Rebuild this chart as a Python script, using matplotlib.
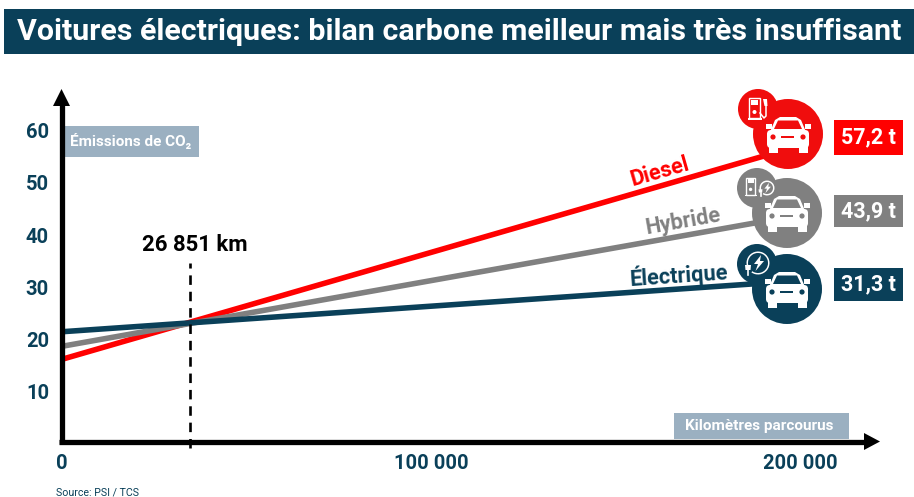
import matplotlib
matplotlib.use("Agg")
import matplotlib.pyplot as plt
from matplotlib.patches import Circle, Rectangle, Polygon, FancyBboxPatch, Wedge

W = 914
H = 497
BLUE = "#0A4059"
RED = "#F00D0D"
GREY = "#808080"
PALE = "#9BB0C1"

km = [0, 200000]
diesel = [16.2, 57.2]
hybride = [18.7, 43.9]
electrique = [21.5, 31.3]
names = ["Diesel", "Hybride", "Électrique"]
totals = ["57,2 t", "43,9 t", "31,3 t"]
y_ticks = [10, 20, 30, 40, 50, 60]
x_ticks = [0, 100000, 200000]
x_labels = ["0", "100 000", "200 000"]
cross_km = 34800
cross_label = "26 851 km"

plt.rcParams["font.family"] = ["Roboto", "DejaVu Sans"]
fig = plt.figure(figsize=(W / 100, H / 100), dpi=100)

# chart axes, placed so that the scales land on the original pixels
ax = fig.add_axes([61.5 / W, 1 - 441.5 / H, (880 - 61.5) / W, (441.5 - 89) / H])
ax.set_xlim(0, (880 - 61.5) / 3.695 * 1000)
ax.set_ylim((444 - 441.5) / 5.22, (444 - 89) / 5.22)
for s in ax.spines.values():
    s.set_visible(False)
ax.patch.set_visible(False)
ax.plot(km, diesel, color="#FF0000", lw=4, solid_capstyle="butt")
ax.plot(km, hybride, color=GREY, lw=4, solid_capstyle="butt")
ax.plot(km, electrique, color=BLUE, lw=4, solid_capstyle="butt")
ax.plot([cross_km, cross_km], [-0.8, 34.7], color="black", lw=1.9, ls=(0, (3.6, 2.6)), clip_on=False)
ax.set_yticks(y_ticks)
ax.set_xticks(x_ticks)
ax.set_xticklabels(x_labels)
ax.tick_params(length=0, labelcolor=BLUE, labelsize=14.5)
ax.tick_params(axis="y", pad=9)
ax.tick_params(axis="x", pad=9)
for t in ax.get_xticklabels() + ax.get_yticklabels():
    t.set_fontweight("bold")

# overlay in pixel coordinates for the decoration
ov = fig.add_axes([0, 0, 1, 1])
ov.set_xlim(0, W)
ov.set_ylim(H, 0)
ov.axis("off")

# banner
ov.add_patch(Rectangle((4, 9), W - 4, 45, color=BLUE, lw=0))
ov.text(17, 32, "Voitures électriques: bilan carbone meilleur mais très insuffisant",
        color="white", fontsize=21.9, fontweight="bold", ha="left", va="center")

# axis arrows
ov.plot([61.5, 61.5], [444, 104], color="black", lw=3.8, solid_capstyle="butt")
ov.plot([59, 866], [441.5, 441.5], color="black", lw=3.8, solid_capstyle="butt")
ov.add_patch(Polygon([(61.5, 89), (53, 106), (70, 106)], color="black", lw=0))
ov.add_patch(Polygon([(880, 441.5), (864, 433), (864, 450)], color="black", lw=0))

# axis caption boxes
ov.add_patch(Rectangle((64, 126), 135, 31, color=PALE, lw=0))
ov.text(70, 141, "Émissions de CO₂", color="white", fontsize=11, fontweight="bold", va="center")
ov.add_patch(Rectangle((674, 413), 175, 26, color=PALE, lw=0))
ov.text(759.5, 426, "Kilomètres parcourus", color="white", fontsize=11, fontweight="bold",
        ha="center", va="center")

ov.text(194.5, 245, cross_label, color="black", fontsize=15.9, fontweight="bold", ha="center", va="center")
ov.text(56, 493, "Source: PSI / TCS", color=BLUE, fontsize=7.7, va="center")

# series names along the lines
ov.text(660, 172, names[0], color="#FF0000", fontsize=15.7, fontweight="bold", rotation=16,
        ha="center", va="center", rotation_mode="anchor")
ov.text(683, 222, names[1], color=GREY, fontsize=15.7, fontweight="bold", rotation=10,
        ha="center", va="center", rotation_mode="anchor")
ov.text(679, 275, names[2], color=BLUE, fontsize=15.7, fontweight="bold", rotation=4,
        ha="center", va="center", rotation_mode="anchor")


def car(cx, cy, col):
    # body, wheels, mirrors in white, then windscreen and details in circle colour
    ov.add_patch(FancyBboxPatch((cx - 21, cy - 4), 42, 18, boxstyle="round,pad=0,rounding_size=4", color="white", lw=0, zorder=5))
    ov.add_patch(Polygon([(cx - 18, cy - 2), (cx - 13, cy - 14), (cx - 8, cy - 17), (cx + 8, cy - 17), (cx + 13, cy - 14), (cx + 18, cy - 2)], color="white", lw=0, zorder=5))
    ov.add_patch(Polygon([(cx - 14, cy - 5), (cx - 10, cy - 13.5), (cx + 10, cy - 13.5), (cx + 14, cy - 5)], color=col, lw=0, zorder=6))
    for dx in (-15, 15):
        ov.add_patch(Rectangle((cx + dx - 4.5, cy + 12), 9, 7, color="white", lw=0, zorder=5))
        ov.add_patch(Circle((cx + dx, cy + 3), 2.6, color=col, lw=0, zorder=6))
        ov.add_patch(Rectangle((cx + dx * 1.3 - 3, cy - 10), 6, 5, color="white", lw=0, zorder=5))
    ov.add_patch(Rectangle((cx - 7, cy + 2.2), 13, 1.8, color=col, lw=0, zorder=6))


def pump(cx, cy, s=1.0, hose=True):
    ov.add_patch(Rectangle((cx - 6 * s, cy - 10 * s), 11 * s, 20 * s, fill=False, ec="white", lw=1, zorder=7))
    ov.add_patch(Rectangle((cx - 4 * s, cy - 8 * s), 7 * s, 5 * s, color="white", lw=0, zorder=7))
    ov.add_patch(Rectangle((cx - 7.5 * s, cy + 10 * s), 14 * s, 1.5, color="white", lw=0, zorder=7))
    ov.add_patch(Circle((cx - 0.5 * s, cy + 4 * s), 2 * s, color="white", lw=0, zorder=7))
    if hose:
        ov.plot([cx + 5, cx + 9, cx + 11, cx + 11], [cy + 5, cy + 10, cy + 8, cy - 6], color="white", lw=1.1, zorder=7)
        ov.add_patch(Polygon([(cx + 8, cy - 9), (cx + 12, cy - 9), (cx + 12.5, cy - 2), (cx + 9.5, cy - 2)], color="white", lw=0, zorder=7))


def plug(cx, cy, s=1.0):
    ov.add_patch(Wedge((cx, cy), 11.5 * s, -215, 125, width=1.5, color="white", lw=0, zorder=7))
    ov.add_patch(Polygon([(cx + 3 * s, cy - 8 * s), (cx - 4 * s, cy + 1 * s), (cx, cy + 1 * s), (cx - 2.5 * s, cy + 8 * s),
                          (cx + 6 * s, cy - 2 * s), (cx + 2 * s, cy - 2 * s)], color="white", lw=0, zorder=7))
    ov.add_patch(Polygon([(cx - 13 * s, cy + 2 * s), (cx - 7 * s, cy + 2 * s), (cx - 7.5 * s, cy + 7 * s), (cx - 12.5 * s, cy + 7 * s)],
                         color="white", lw=0, zorder=7))
    ov.plot([cx - 10 * s, cx - 10 * s], [cy + 7 * s, cy + 12 * s], color="white", lw=1.2, zorder=7)


badges = [
    (788, 134, 758, 109, RED, "#FF0000", 120, 35),
    (787, 213, 757, 188, GREY, GREY, 195, 32),
    (787, 289, 757, 264, BLUE, BLUE, 268, 33),
]
for i, (bx, by, sx, sy, col, boxcol, ty, th) in enumerate(badges):
    ov.add_patch(Circle((sx, sy), 20, color=col, lw=0, zorder=3))
    ov.add_patch(Circle((bx, by), 35, color=col, lw=0, zorder=3))
    car(bx, by, col)
    ov.add_patch(Rectangle((834, ty), 69, th, color=boxcol, lw=0))
    ov.text(868.5, ty + th / 2, totals[i], color="white", fontsize=15.5, fontweight="bold", ha="center", va="center")

pump(755, 108)
pump(751, 186, s=0.85, hose=False)
plug(767, 188, s=0.65)
plug(758, 263)

fig.savefig("out.png", dpi=100)
